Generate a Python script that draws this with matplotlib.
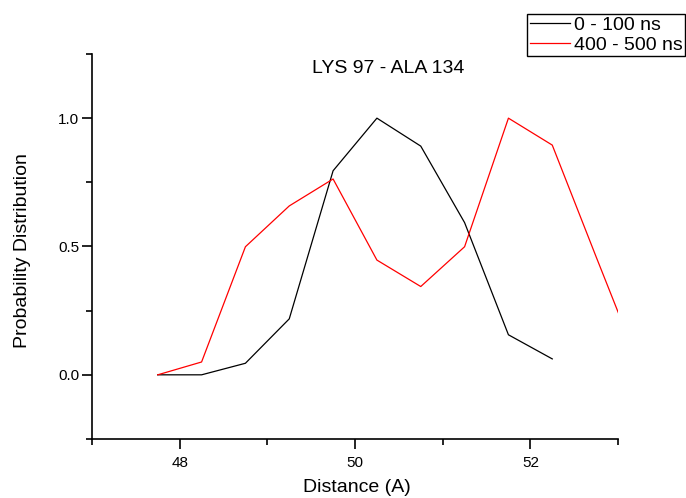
import matplotlib
matplotlib.use("Agg")
import matplotlib.pyplot as plt
from matplotlib.ticker import MultipleLocator, FormatStrFormatter

plt.rcParams['font.family'] = ['Liberation Sans', 'DejaVu Sans']

distance = [47.75, 48.25, 48.75, 49.25, 49.75, 50.25, 50.75, 51.25, 51.75, 52.25, 52.75, 53.25]
early = [0.0, 0.0, 0.045, 0.218, 0.795, 1.0, 0.891, 0.593, 0.156, 0.062]
late = [0.0, 0.05, 0.499, 0.658, 0.763, 0.447, 0.344, 0.499, 1.0, 0.895, 0.46, 0.03]
labels = ["0 - 100 ns", "400 - 500 ns"]
title = "LYS 97 - ALA 134"

fig = plt.figure(figsize=(6.86, 4.98), dpi=100)
ax = fig.add_axes([0.1341, 0.1185, 0.7668, 0.7731])
l1, = ax.plot(distance[:len(early)], early, color='black', lw=0.9, label=labels[0])
l2, = ax.plot(distance[:len(late)], late, color='red', lw=0.9, label=labels[1])

ax.set_xlim(47, 53)
ax.set_ylim(-0.25, 1.25)
ax.xaxis.set_major_locator(MultipleLocator(2))
ax.xaxis.set_minor_locator(MultipleLocator(1))
ax.yaxis.set_major_locator(MultipleLocator(0.5))
ax.yaxis.set_minor_locator(MultipleLocator(0.25))
ax.yaxis.set_major_formatter(FormatStrFormatter('%.1f'))
for s in ['top', 'right']:
    ax.spines[s].set_visible(False)
for s in ['left', 'bottom']:
    ax.spines[s].set_linewidth(1.2)
ax.tick_params(which='major', direction='out', length=7, width=1.2, labelsize=11)
ax.tick_params(axis='x', which='major', pad=5)
ax.tick_params(axis='y', which='major', pad=2)
ax.tick_params(which='minor', direction='out', length=4, width=1.2)

ax.set_xlabel("Distance (A)", fontsize=14, va='center')
ax.set_ylabel("Probability Distribution", fontsize=14, va='center')
ax.xaxis.set_label_coords(0.504, -0.127)
ax.yaxis.set_label_coords(-0.133, 0.49)
ax.text(0.563, 0.961, title, transform=ax.transAxes, ha='center', va='center', fontsize=14)

leg = fig.legend(handles=[l1, l2], loc='upper right', bbox_to_anchor=(0.998, 0.972),
                 fontsize=14, handlelength=2.05, handletextpad=0.2, borderpad=0.12,
                 labelspacing=0.12, borderaxespad=0, fancybox=False, framealpha=1)
leg.get_frame().set_edgecolor('black')
leg.get_frame().set_linewidth(1.0)

fig.savefig("out.png", dpi=100)
